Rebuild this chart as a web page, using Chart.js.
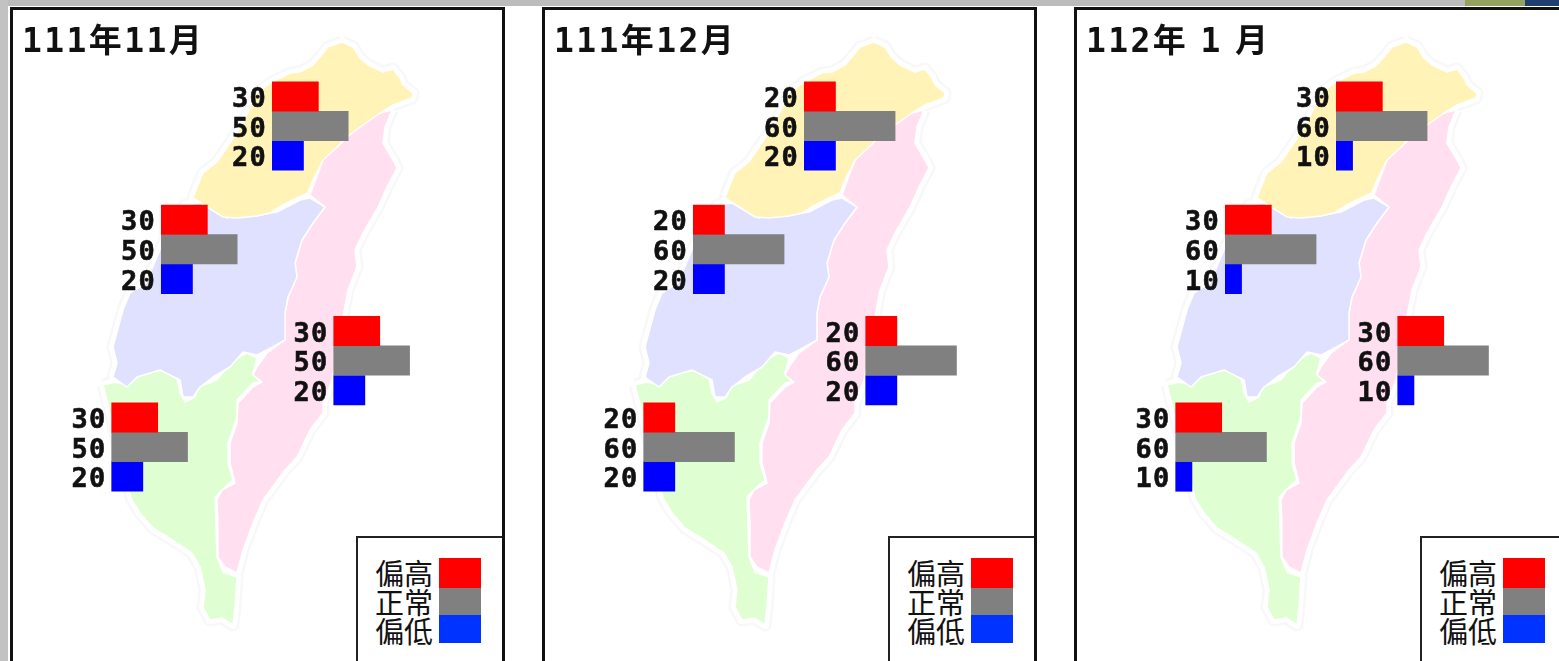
<!DOCTYPE html>
<html>
<head>
<meta charset="utf-8">
<script src="https://cdn.jsdelivr.net/npm/chart.js@4"></script>
<style>
  html, body { margin: 0; padding: 0; background: #fff; }
  body { width: 1559px; height: 661px; overflow: hidden; position: relative; }
  #topStrip { position: absolute; left: 0; top: 0; width: 1559px; height: 6px; background: #bcbcbc; }
  #topOlive { position: absolute; left: 1465px; top: 0; width: 60px; height: 6px; background: #93a35f; }
  #topNavy { position: absolute; left: 1525px; top: 0; width: 34px; height: 6px; background: #1f3f6e; }
  #leftStrip { position: absolute; left: 0; top: 0; width: 8px; height: 661px; background: #c2c2c2; }
  .panel { position: absolute; top: 7px; width: 489px; height: 700px; border: 3px solid #111; background: transparent; }
  .wrap { position: absolute; top: 0; width: 532px; height: 661px; }
  canvas { display: block; }
  .key { position: absolute; top: 536px; width: 146px; height: 130px; box-sizing: border-box; border: 2.5px solid #222; border-right: none; background: #fff; }
  .key div { position: absolute; left: 17px; font: 29px/29px "Noto Sans CJK TC"; color: #111; letter-spacing: 0; }
  .key i { position: absolute; left: 81px; width: 42px; display: block; }
</style>
</head>
<body>
<div id="topStrip"></div><div id="topOlive"></div><div id="topNavy"></div><div id="leftStrip"></div>
<script>
const periods = ['111年11月', '111年12月', '112年 1 月'];
const high = [[30, 30, 30, 30], [20, 20, 20, 20], [30, 30, 30, 30]];
const normal = [[50, 50, 50, 50], [60, 60, 60, 60], [60, 60, 60, 60]];
const low = [[20, 20, 20, 20], [20, 20, 20, 20], [10, 10, 10, 10]];
const keyLabels = ['偏高', '正常', '偏低'];

// north, central, east, south: where each group of bars sits on the map
const groupStart = [183.2, 108.7, 224.4, 75.4];
const rowHigh = [96.5, 219.7, 331, 417.5];
const rowNormal = [126, 249.3, 360.6, 447];
const rowLow = [155.5, 279, 390.2, 476.6];

const north = [[342,42],[353,47],[360,58],[368,65],[383,72],[393,69],[400,78],[403,85],[413,93],[412,98],[393,105],[380,113],[360,127],[347,137],[337,147],[323,160],[313,180],[308,193],[297,198],[283,205],[270,213],[257,216],[237,218],[223,217],[207,207],[193,198],[197,187],[203,173],[217,162],[230,143],[243,123],[257,93],[272,82],[290,73],[300,72],[313,65],[320,57],[328,47]];
const central = [[325,207],[310,198],[300,200],[277,212],[260,215],[243,213],[227,218],[213,210],[200,203],[185,205],[172,225],[160,250],[146,283],[130,293],[123,310],[113,347],[117,363],[113,377],[127,387],[137,377],[160,370],[180,380],[183,397],[193,397],[200,387],[213,377],[230,367],[243,352],[257,355],[267,350],[285,340],[285,313],[288,297],[297,277],[295,263],[302,240],[313,223]];
const east = [[392,110],[385,127],[383,143],[393,160],[397,168],[387,187],[378,207],[363,233],[355,250],[357,267],[348,290],[343,317],[338,350],[332,380],[323,403],[323,413],[310,430],[297,457],[285,470],[263,500],[253,523],[243,550],[237,573],[225,567],[218,557],[218,523],[217,500],[222,490],[235,483],[230,463],[230,443],[237,423],[238,403],[253,387],[262,382],[253,375],[257,367],[267,353],[285,340],[285,313],[288,297],[297,277],[295,263],[302,240],[313,223],[325,207],[310,195],[323,160],[337,147],[347,137],[360,127],[380,113]];
const south = [[103,385],[112,420],[124,475],[132,500],[140,513],[153,528],[177,543],[192,553],[200,567],[205,590],[203,607],[210,620],[222,618],[233,625],[235,607],[237,577],[223,572],[217,557],[215,497],[227,485],[233,480],[228,463],[228,443],[237,417],[237,400],[253,383],[260,382],[253,373],[257,358],[247,353],[233,360],[217,380],[198,387],[195,397],[185,402],[180,393],[177,378],[163,370],[140,375],[127,385],[115,382]];

const shapes = [north, central, east, south];
const shapeColors = ['#fff3b8', '#e0e0ff', '#ffdff0', '#dfffd2'];
const barColors = ['#ff0000', '#808080', '#0000ff'];
const keyColors = ['#ff0000', '#808080', '#0033ff'];
const keyTops = [20, 50, 77];

function closed(points) {
  return points.concat([points[0]]).map(p => ({ x: p[0], y: p[1] }));
}

// value labels in front of the bars, and the month title
const textPlugin = {
  id: 'panelText',
  afterDraw(chart) {
    const ctx = chart.ctx;
    ctx.save();
    ctx.fillStyle = '#111';
    ctx.strokeStyle = '#111';
    ctx.lineWidth = 0.6;
    ctx.textBaseline = 'middle';
    ctx.textAlign = 'right';
    ctx.font = 'bold 27px "DejaVu Sans Mono"';
    ctx.letterSpacing = '1.2px';
    chart.data.datasets.forEach((ds, i) => {
      if (ds.type !== 'bar') return;
      chart.getDatasetMeta(i).data.forEach((el, j) => {
        ctx.fillText(ds.values[j], el.base - 6, el.y + 3.5);
        ctx.strokeText(ds.values[j], el.base - 6, el.y + 3.5);
      });
    });
    ctx.textAlign = 'left';
    ctx.font = 'bold 33px "DejaVu Sans Mono", "Noto Sans CJK TC"';
    ctx.letterSpacing = '2.4px';
    ctx.wordSpacing = '-10px';
    ctx.fillText(chart.options.panelTitle, 22, 43);
    ctx.restore();
  }
};

function makeBars(values, rows, color) {
  return {
    type: 'bar',
    indexAxis: 'y',
    xAxisID: 'xVal',
    yAxisID: 'y',
    values,
    data: values.map((v, i) => ({ x: [groupStart[i], groupStart[i] + v], y: rows[i] })),
    backgroundColor: color,
    barThickness: 28,
    inflateAmount: 1,
    grouped: false,
    order: 1
  };
}

function makeOutline(points, color, width, fillColor, order) {
  return {
    type: 'line',
    xAxisID: 'xMap',
    yAxisID: 'y',
    data: closed(points),
    borderColor: color,
    borderWidth: width,
    backgroundColor: fillColor || 'transparent',
    fill: fillColor ? 'shape' : false,
    pointRadius: 0,
    tension: 0,
    borderJoinStyle: 'round',
    order
  };
}

periods.forEach((title, p) => {
  const left = p * 532;

  const wrap = document.createElement('div');
  wrap.className = 'wrap';
  wrap.style.left = left + 'px';
  wrap.innerHTML = '<canvas width="532" height="661"></canvas>';
  document.body.appendChild(wrap);

  const panel = document.createElement('div');
  panel.className = 'panel';
  panel.style.left = (left + 9.5) + 'px';
  document.body.appendChild(panel);

  const key = document.createElement('div');
  key.className = 'key';
  key.style.left = (left + 356) + 'px';
  key.innerHTML = keyLabels.map((t, k) =>
    `<div style="top:${20 + k * 29}px">${t}</div>` +
    `<i style="top:${keyTops[k]}px;height:${k === 0 ? 30 : k === 1 ? 27 : 28}px;background:${keyColors[k]}"></i>`
  ).join('');
  document.body.appendChild(key);

  const datasets = [];
  shapes.forEach((s) => {
    datasets.push(makeOutline(s, '#f8f8fa', 13, null, 30));
  });
  shapes.forEach((s) => {
    datasets.push(makeOutline(s, '#ffffff', 8, null, 20));
  });
  shapes.forEach((s, i) => {
    datasets.push(makeOutline(s, '#ffffff', 1.5, shapeColors[i], 10));
  });
  datasets.push(makeBars(high[p], rowHigh, barColors[0]));
  datasets.push(makeBars(normal[p], rowNormal, barColors[1]));
  datasets.push(makeBars(low[p], rowLow, barColors[2]));

  new Chart(wrap.querySelector('canvas'), {
    data: { datasets },
    options: {
      panelTitle: title,
      responsive: false,
      animation: false,
      layout: { padding: 0 },
      plugins: { legend: { display: false }, tooltip: { enabled: false }, filler: { propagate: false } },
      scales: {
        xMap: { type: 'linear', axis: 'x', display: false, min: 0, max: 532, offset: false },
        xVal: { type: 'linear', axis: 'x', display: false, min: 0, max: 357, offset: false },
        y: { type: 'linear', display: false, min: 0, max: 661, reverse: true, offset: false }
      }
    },
    plugins: [textPlugin]
  });
});
</script>
</body>
</html>
